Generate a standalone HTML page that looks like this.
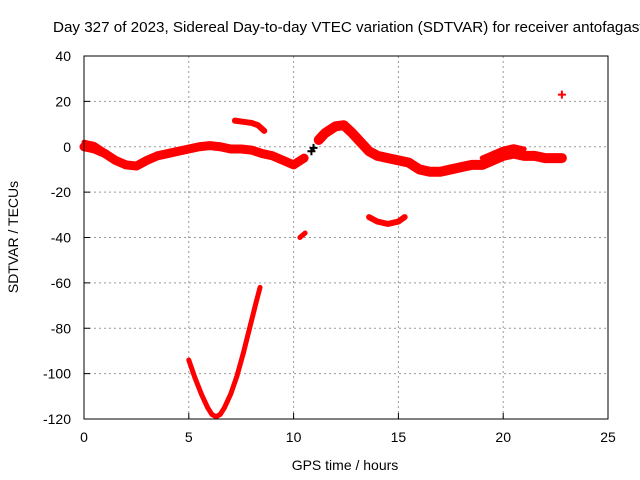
<!DOCTYPE html>
<html><head><meta charset="utf-8"><style>
body{margin:0;background:#fff}
svg{display:block;font-family:"Liberation Sans",sans-serif}
</style></head><body>
<svg id="c" width="640" height="480" viewBox="0 0 640 480" xmlns="http://www.w3.org/2000/svg">
<rect width="640" height="480" fill="#fff"/>
<text x="53" y="32" font-size="15.2">Day 327 of 2023, Sidereal Day-to-day VTEC variation (SDTVAR) for receiver antofagasta</text>
<text x="345" y="470" font-size="14" text-anchor="middle">GPS time / hours</text>
<text transform="translate(18,237) rotate(-90)" font-size="14" text-anchor="middle">SDTVAR / TECUs</text>
<g id="grid"></g><g id="marks"></g>
<rect x="84" y="56" width="524" height="363" fill="none" stroke="#000" stroke-width="1"/>
</svg>
<script>
const xTicks=[0,5,10,15,20,25];
const yTicks=[40,20,0,-20,-40,-60,-80,-100,-120];
const bandAH=[0,0.5,1,1.5,2,2.5,3,3.5,4,4.5,5,5.5,6,6.5,7,7.5,8,8.5,9,9.5,10,10.5];
const bandAV=[0,-1,-3,-6,-8,-8.5,-6,-4,-3,-2,-1,0,0.5,0,-1,-1,-1.5,-3,-4,-6,-8,-5];
const bandA2H=[0,0.5,1,1.5];
const bandA2V=[2,1,-2,-5];
const bandBH=[11.2,11.5,12,12.4,12.8,13.2,13.6,14,14.5,15,15.5,16,16.5,17,17.5,18,18.5,19,19.5,20,20.5,21,21.5,22,22.8];
const bandBV=[3,6,9,9.5,6,2,-2,-4,-5,-6,-7,-10,-11,-11,-10,-9,-8,-8,-6,-4,-3,-4,-4,-5,-5];
const bandCH=[19,19.5,20,20.5,21];
const bandCV=[-5,-3,-1,0,-1];
const topH=[7.2,7.6,8,8.3,8.6];
const topV=[11.5,11,10.5,9.5,7];
const bowlH=[5,5.3,5.6,5.9,6.1,6.3,6.5,6.7,7,7.3,7.6,7.9,8.2,8.4];
const bowlV=[-94,-102,-109,-115,-118,-119,-118,-115,-109,-101,-91,-80,-69,-62];
const smallH=[10.3,10.55];
const smallV=[-40,-38];
const arcH=[13.6,14,14.5,15,15.3];
const arcV=[-31,-33,-34,-33,-31];
const outH=[22.8];const outV=[23];
const blackH=[10.85,10.95];const blackV=[-2,-0.5];
const X=h=>84+h*524/25;
const Y=v=>56+(40-v)*363/160;
const NS="http://www.w3.org/2000/svg";
const g=document.getElementById('grid'),m=document.getElementById('marks');
function mk(t,a,p){const e=document.createElementNS(NS,t);for(const k in a)e.setAttribute(k,a[k]);p.appendChild(e);return e;}
xTicks.forEach(t=>{
 if(t>0&&t<25){const l=mk('line',{x1:X(t),x2:X(t),y1:56,y2:419,stroke:'#999','stroke-dasharray':'2,3'},g);
 }
 const tk=mk('line',{x1:X(t),x2:X(t),y1:419,y2:413,stroke:'#000'},g);
 
 const tx=mk('text',{x:X(t),y:442,'font-size':14,'text-anchor':'middle'},g);tx.textContent=t;
 
});
yTicks.forEach(t=>{
 if(t<40&&t>-120){const l=mk('line',{x1:84,x2:608,y1:Y(t),y2:Y(t),stroke:'#999','stroke-dasharray':'2,3'},g);
 }
 const tk=mk('line',{x1:84,x2:90,y1:Y(t),y2:Y(t),stroke:'#000'},g);
 
 const tx=mk('text',{x:71,y:Y(t)+5,'font-size':14,'text-anchor':'end'},g);tx.textContent=t;
 
});
function band(H,V,w,name){
 const p=mk('polyline',{points:H.map((h,i)=>X(h)+','+Y(V[i])).join(' '),fill:'none',stroke:'#f00','stroke-width':w,'stroke-linejoin':'round','stroke-linecap':'round'},m);
 
}
band(bandAH,bandAV,9,'series-band-a');
band(bandA2H,bandA2V,5,'series-band-a-upper');
band(bandBH,bandBV,10,'series-band-b');
band(bandCH,bandCV,5,'series-band-c');
band(topH,topV,6,'series-top-arc');
band(bowlH,bowlV,5,'series-bowl');
band(smallH,smallV,5,'series-small');
band(arcH,arcV,6,'series-arc');
function cross(H,V,col,name){H.forEach((h,i)=>{
 const p=mk('path',{d:`M${X(h)-4},${Y(V[i])}h8M${X(h)},${Y(V[i])-4}v8`,stroke:col,'stroke-width':2},m);
 });}
cross(outH,outV,'#f00','outlier-point');
cross(blackH,blackV,'#000','black-point');
</script>
</body></html>
